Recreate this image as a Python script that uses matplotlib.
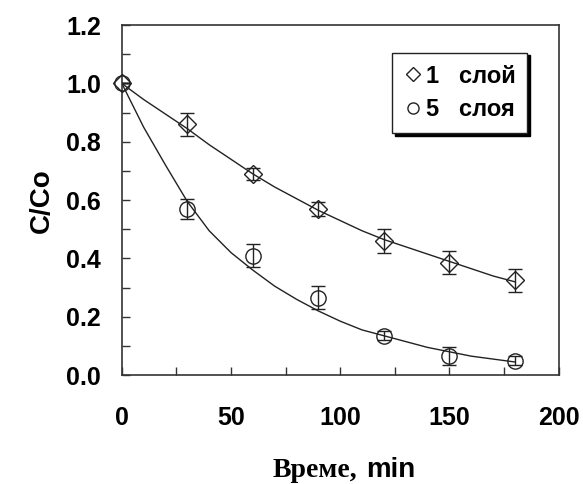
import matplotlib.pyplot as plt
from matplotlib.lines import Line2D
from matplotlib.ticker import MultipleLocator

# measured points
time_pts = [0, 30, 60, 90, 120, 150, 180]
layer1 = [1.0, 0.86, 0.69, 0.57, 0.46, 0.385, 0.325]
layer1_err = [0.0, 0.04, 0.02, 0.025, 0.04, 0.04, 0.04]
layer5 = [1.0, 0.57, 0.41, 0.265, 0.135, 0.065, 0.05]
layer5_err = [0.0, 0.035, 0.04, 0.04, 0.015, 0.03, 0.015]

# fitted curves
fit_time = [0, 10, 20, 30, 40, 50, 60, 70, 80, 90, 100, 110, 120,
            130, 140, 150, 160, 170, 180]
fit1 = [1.0, 0.945, 0.895, 0.845, 0.79, 0.74, 0.69, 0.645, 0.605, 0.565,
        0.53, 0.495, 0.465, 0.44, 0.415, 0.39, 0.365, 0.34, 0.32]
fit5 = [1.0, 0.85, 0.72, 0.595, 0.495, 0.42, 0.36, 0.305, 0.26, 0.22,
        0.185, 0.155, 0.135, 0.115, 0.095, 0.08, 0.065, 0.055, 0.045]

SANS = "Liberation Sans"
SERIF = "Liberation Serif"
INK = "#222222"

fig = plt.figure(figsize=(5.83, 4.84), dpi=100)
ax = fig.add_axes([0.209, 0.225, 0.749, 0.723])

ax.plot(fit_time, fit1, color=INK, lw=1.0)
ax.plot(fit_time, fit5, color=INK, lw=1.0)

for y, err, mk, ms in [(layer1, layer1_err, "D", 9), (layer5, layer5_err, "o", 11)]:
    bars = ax.errorbar(time_pts, y, yerr=err, fmt=mk, ms=ms, mfc="none",
                       mec=INK, mew=1.0, ecolor=INK, elinewidth=1.0,
                       capsize=5, capthick=1.0, zorder=3)
    bars[0].set_clip_on(False)

ax.set_xlim(0, 200)
ax.set_ylim(0, 1.2)
ax.xaxis.set_major_locator(MultipleLocator(50))
ax.xaxis.set_minor_locator(MultipleLocator(25))
ax.yaxis.set_major_locator(MultipleLocator(0.2))
ax.yaxis.set_minor_locator(MultipleLocator(0.1))
ax.yaxis.set_major_formatter(plt.FuncFormatter(lambda v, p: f"{v:.1f}"))

ax.tick_params(which="both", direction="in", length=6, width=1.0,
               top=False, right=False, color="#333333")
ax.tick_params(axis="x", which="major", pad=22, labelsize=18)
ax.tick_params(axis="y", which="major", pad=15, labelsize=18)
for lbl in ax.get_xticklabels() + ax.get_yticklabels():
    lbl.set_fontfamily(SANS)
    lbl.set_fontweight("bold")

for sp in ax.spines.values():
    sp.set_linewidth(1.2)
    sp.set_color("#333333")

ax.set_ylabel("C/Co", fontsize=20, fontweight="bold", family=SANS, labelpad=8)

fig.text(0.612, 0.015, "Време,", fontsize=20, fontweight="bold", family=SERIF,
         ha="right", va="baseline")
fig.text(0.628, 0.015, "min", fontsize=20, fontweight="bold", family=SANS,
         ha="left", va="baseline")

handles = [
    Line2D([], [], ls="none", marker="D", ms=7, mfc="none", mec=INK, mew=1.0),
    Line2D([], [], ls="none", marker="o", ms=8, mfc="none", mec=INK, mew=1.0),
]
leg = ax.legend(handles, ["1   слой", "5   слоя"], loc="upper right",
                bbox_to_anchor=(0.955, 0.955),
                frameon=True, fancybox=False, edgecolor=INK,
                shadow={"color": "black", "alpha": 1.0},
                prop={"family": SANS, "weight": "bold", "size": 17},
                handlelength=0.7, handletextpad=0.2, borderpad=0.5,
                labelspacing=0.45)
leg.get_frame().set_linewidth(1.0)

fig.savefig("out.png", dpi=100)
